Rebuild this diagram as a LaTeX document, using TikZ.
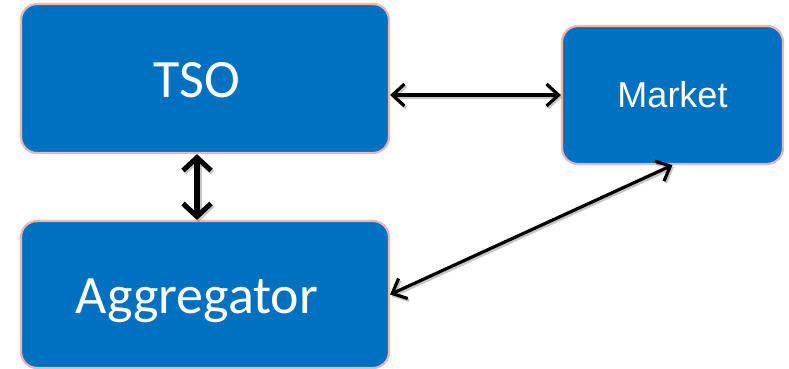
\documentclass[tikz,border=0pt]{standalone}
\usepackage{fontspec}
\newfontfamily\boxfont{Carlito}
\newfontfamily\mktfont{Liberation Sans}
\usetikzlibrary{arrows.meta}
\definecolor{boxblue}{HTML}{0070C0}
\definecolor{boxedge}{HTML}{E6B9B8}
\tikzset{
  block/.style={rectangle, rounded corners=16pt, fill=boxblue, draw=boxedge,
    line width=2.2pt, inner sep=0pt},
  blocktext/.style={text=white, inner sep=0pt},
  barb/.tip={Straight Barb[length=12pt,width=22pt,line width=3.2pt]},
  bigbarb/.tip={Straight Barb[length=13pt,width=28pt,line width=5pt]},
  link/.style={line width=3.2pt, draw=black, {barb}-{barb}},
  biglink/.style={line width=6pt, draw=black, {bigbarb}-{bigbarb}},
  linkshadow/.style={draw=black, opacity=0.22, transform canvas={shift={(1.5pt,-2pt)}}}
}
\begin{document}
\begin{tikzpicture}[x=1pt,y=-1pt]
  \useasboundingbox (0,0) rectangle (789,369);
  % the three parties
  \node[block, minimum width=368pt, minimum height=149pt] (TSO) at (205,78.5) {};
  \node[block, minimum width=368pt, minimum height=147pt] (Agg) at (205,294.5) {};
  \node[block, minimum width=221pt, minimum height=138pt] (Market) at (672.5,95) {};
  \node[blocktext, font=\boxfont\fontsize{54}{60}\selectfont] (TSOlabel)
    at ([xshift=-8pt,yshift=-2pt]TSO.center) {TSO};
  \node[blocktext, font=\boxfont\fontsize{54}{60}\selectfont] (Agglabel)
    at ([xshift=-8pt,yshift=-6pt]Agg.center) {Aggregator};
  \node[blocktext, font=\mktfont\fontsize{36}{40}\selectfont] (Marketlabel)
    at (Market.center) {Market};
  % soft shadows under the connectors
  \draw[link, linkshadow] (TSO.east |- Market.west) -- (Market.west);
  \draw[biglink, linkshadow] ([xshift=-8pt]TSO.south) -- ([xshift=-8pt]Agg.north);
  \draw[link, linkshadow] (Agg.east) -- (Market.south);
  % exchanges between them
  \draw[link] (TSO.east |- Market.west) -- (Market.west);
  \draw[biglink] ([xshift=-8pt]TSO.south) -- ([xshift=-8pt]Agg.north);
  \draw[link] (Agg.east) -- (Market.south);
\end{tikzpicture}
\end{document}
